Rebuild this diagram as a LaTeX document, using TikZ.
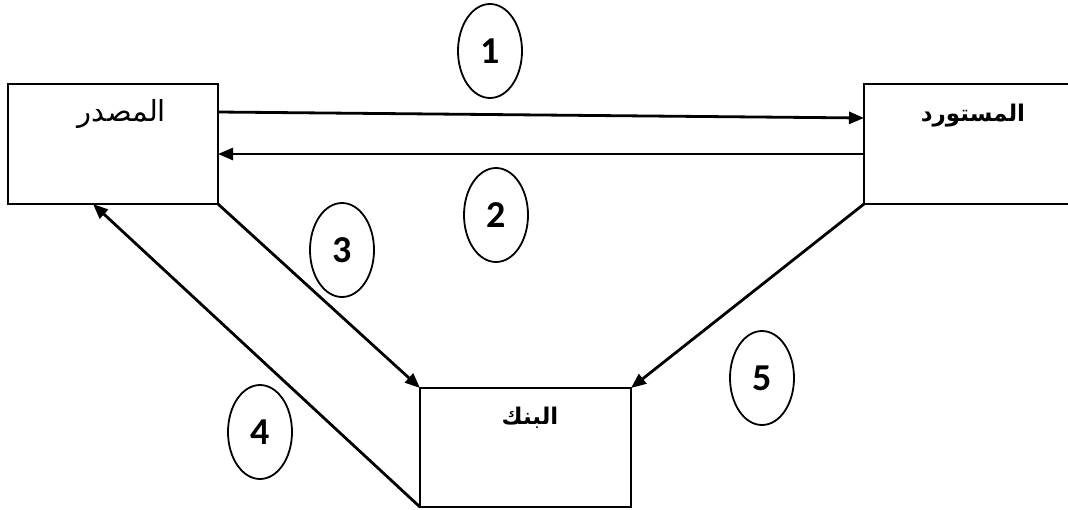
\documentclass[tikz,border=0pt]{standalone}
\usepackage{fontspec}
\usetikzlibrary{shapes.geometric,arrows.meta,calc}
\newfontfamily\arabicfont[Script=Arabic]{DejaVu Sans}
\newfontfamily\numfont{Carlito}
\TeXXeTstate=1

\begin{document}
\begin{tikzpicture}[x=1pt, y=-1pt,
    box/.style={draw, rectangle, line width=2.8pt, outer sep=0pt, inner sep=0pt},
    num/.style={draw, ellipse, line width=1.8pt, minimum width=64pt, minimum height=94pt, inner sep=0pt,
        font=\numfont\bfseries\fontsize{38}{38}\selectfont},
    flow/.style={line width=2.8pt, -{Triangle[length=15pt,width=12pt]}},
    arlabel/.style={inner sep=0pt, font=\arabicfont\fontsize{29}{34}\selectfont},
    arbold/.style={inner sep=0pt, font=\arabicfont\bfseries\fontsize{23}{27}\selectfont}]
    \useasboundingbox (0,0) rectangle (1068,509);
    \clip (0,0) rectangle (1068,509);
    \node[box, minimum width=210pt, minimum height=120pt] (exporter) at (113,144) {};
    \node[box, minimum width=214pt, minimum height=120pt] (importer) at (971,144) {};
    \node[box, minimum width=211pt, minimum height=119pt] (bank) at (525.5,447.5) {};
    \node[arlabel] (exportername) at (122,114) {\beginR المصدر\endR};
    \node[arbold] (importername) at (973,116) {\beginR المستورد\endR};
    \node[arbold] (bankname) at (530,418) {\beginR البنك\endR};
    \node[num] (one) at (490,51) {1};
    \node[num] (two) at (496,215) {2};
    \node[num] (three) at (342,250) {3};
    \node[num] (four) at (260,432) {4};
    \node[num] (five) at (762,378) {5};
    \draw[flow] ($(exporter.north east)+(0,28)$) -- ($(importer.north west)+(0,34)$);
    \draw[flow] ($(importer.north west)+(0,70)$) -- ($(exporter.north east)+(0,70)$);
    \draw[flow] (exporter.south east) -- (bank.north west);
    \draw[flow] (bank.south west) -- ($(exporter.south west)+(85,0)$);
    \draw[flow] (importer.south west) -- (bank.north east);
\end{tikzpicture}
\end{document}
